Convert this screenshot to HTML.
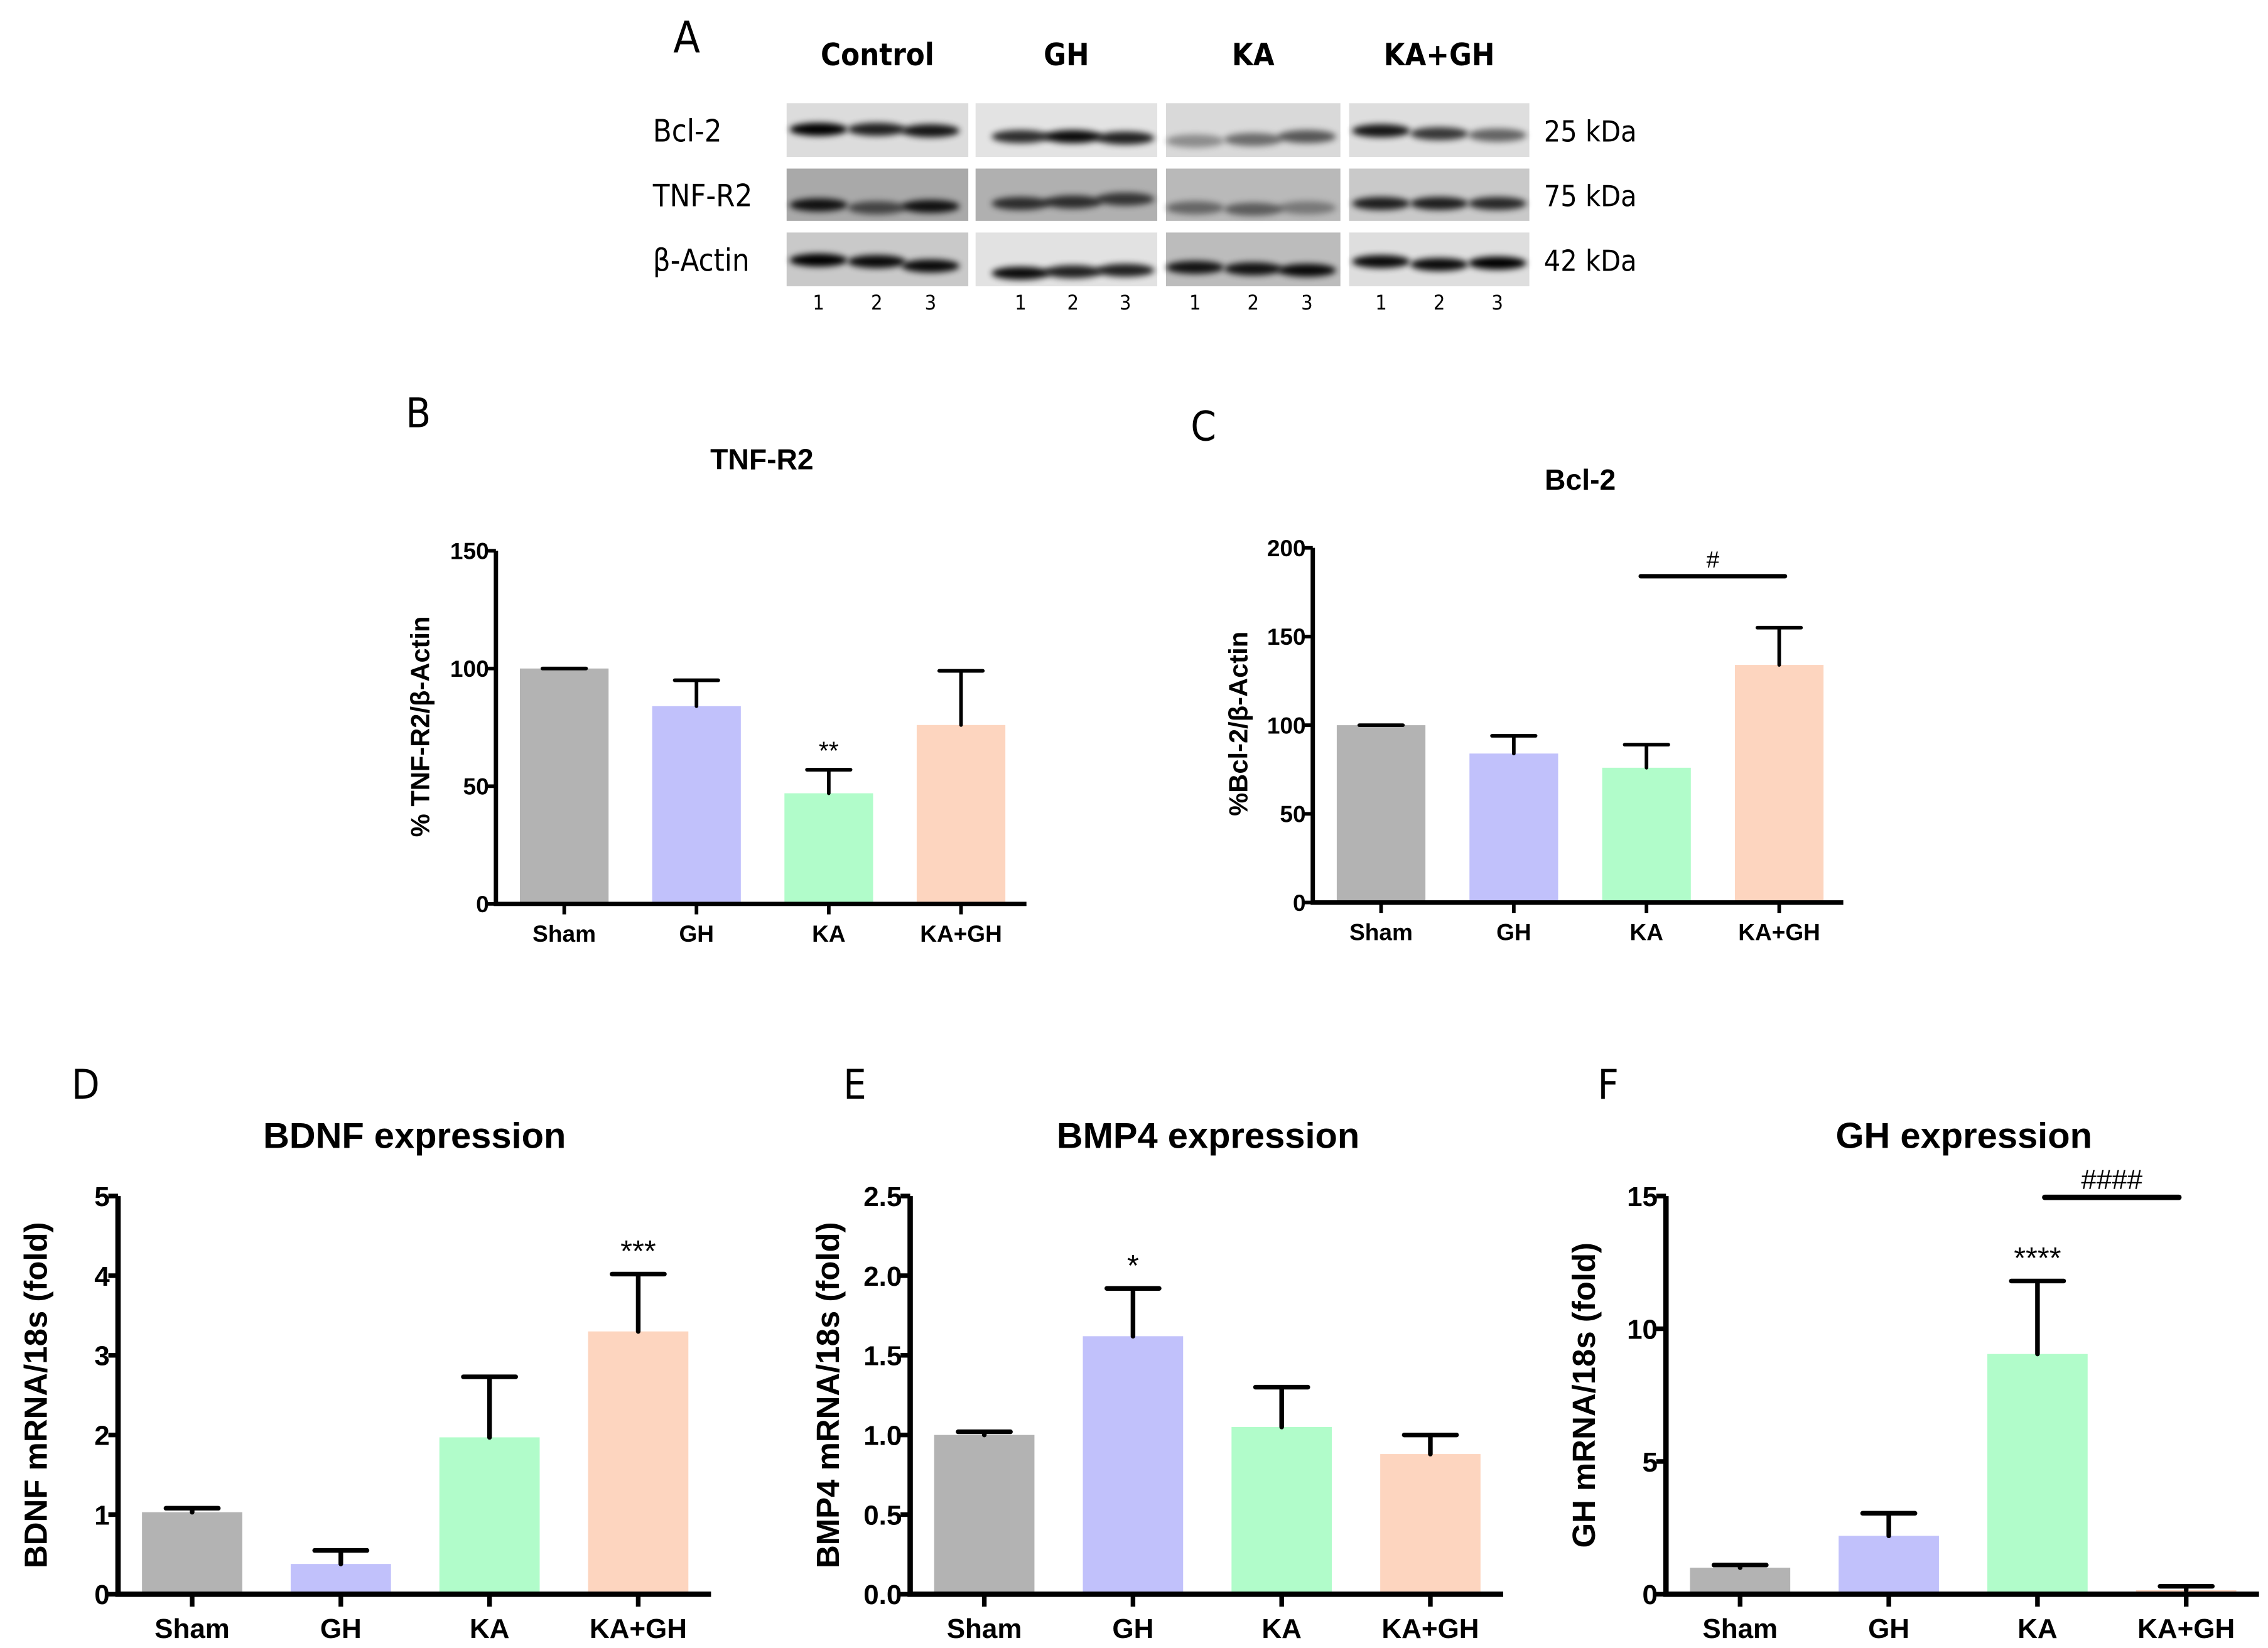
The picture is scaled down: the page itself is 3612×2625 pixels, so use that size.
<!DOCTYPE html>
<html><head><meta charset="utf-8"><style>
html,body{margin:0;padding:0;background:#fff;}
svg{display:block;}
text{font-family:"Liberation Sans Narrow","Liberation Sans",sans-serif;}
.b{font-weight:bold;}
.reg{font-family:"DejaVu Sans Condensed","Liberation Sans",sans-serif;}
</style></head><body>
<svg id="fig" xmlns="http://www.w3.org/2000/svg" width="3612" height="2625" viewBox="0 0 1560 1134">
<defs><filter id="blur" x="-20%" y="-100%" width="140%" height="300%"><feGaussianBlur stdDeviation="2.2"/></filter></defs>
<g id="blots"></g>
<g id="charts"></g>
</svg>
<script>
// ---- chart data ----
const categories = ["Sham","GH","KA","KA+GH"];
const colors = ["#b3b3b3","#c1c1fb","#b1fcca","#fdd5bf"];
const tnfValues = [100,84,47,76];
const tnfErr = [100,95,57,99];
const tnfTicks = [0,50,100,150];
const bclValues = [100,84,76,134];
const bclErr = [100,94,89,155];
const bclTicks = [0,50,100,150,200];
const bdnfValues = [1.03,0.38,1.97,3.3];
const bdnfErr = [1.08,0.55,2.73,4.02];
const bdnfTicks = [0,1,2,3,4,5];
const bmpValues = [1.0,1.62,1.05,0.88];
const bmpErr = [1.02,1.92,1.30,1.0];
const bmpTicks = ["0.0","0.5","1.0","1.5","2.0","2.5"];
const ghValues = [1.0,2.2,9.05,0.15];
const ghErr = [1.1,3.05,11.8,0.3];
const ghTicks = [0,5,10,15];

const NS="http://www.w3.org/2000/svg";
function mk(parent,tag,attrs,txt){const e=document.createElementNS(NS,tag);for(const k in attrs)e.setAttribute(k,attrs[k]);if(txt!==undefined)e.textContent=txt;parent.appendChild(e);return e;}

const charts=document.getElementById('charts');
function chart(o){
  const g=mk(charts,'g',{});
  
  
  const tmax=+o.ticks[o.ticks.length-1];
  const yS=v=>o.y0-(v/tmax)*(o.y0-o.yTop);
  const xC=i=>o.x0+o.first+i*o.step;
  o.values.forEach((v,i)=>{
    const r=mk(g,'rect',{x:xC(i)-o.bw/2,y:yS(v),width:o.bw,height:o.y0-yS(v),fill:colors[i]});
    
    
    const e=mk(g,'path',{d:`M${xC(i)},${yS(v)}V${yS(o.err[i])}M${xC(i)-o.cap/2},${yS(o.err[i])}H${xC(i)+o.cap/2}`,stroke:'#000','stroke-width':o.lw,fill:'none','stroke-linecap':'round'});
    
    
    const xl=mk(g,'text',{x:xC(i),y:o.y0+o.xlOff,'font-size':o.fs,'text-anchor':'middle',class:'b'},categories[i]);
    
    
    mk(g,'line',{x1:xC(i),x2:xC(i),y1:o.y0,y2:o.y0+o.fs*0.45,stroke:'#000','stroke-width':o.lw});
  });
  const ax=mk(g,'path',{d:`M${o.x0},${o.yTop}V${o.y0}H${o.xEnd}`,stroke:'#000','stroke-width':o.lw+0.5,fill:'none'});
  
  
  o.ticks.forEach(t=>{
    const y=yS(+t);
    mk(g,'line',{x1:o.x0-o.fs*0.35,x2:o.x0,y1:y,y2:y,stroke:'#000','stroke-width':o.lw});
    const tl=mk(g,'text',{x:o.x0-o.fs*0.3,y:y+o.fs*0.36,'font-size':o.fs,'text-anchor':'end',class:'b'},t);
    
    
  });
  const yl=mk(g,'text',{x:0,y:0,'font-size':o.ylfs,'text-anchor':'middle',class:'b',transform:`translate(${o.ylx},${o.ylc}) rotate(-90)`},o.ylabel);
  
  
  const ti=mk(g,'text',{x:o.tx,y:o.ty,'font-size':o.tfs,'text-anchor':'middle',class:'b'},o.title);
  
  
  const pl=mk(g,'text',{x:o.lx,y:o.ly,'font-size':28,class:'reg'},o.letter);
  
  
  (o.marks||[]).forEach(m=>{
    const s=mk(g,'text',{x:xC(m.i),y:yS(o.err[m.i])-o.fs*0.45,'font-size':o.fs*1.1,'text-anchor':'middle'},m.t);
    
    
  });
  if(o.bracket){const b=o.bracket;const y=yS(b.v);
    mk(g,'line',{x1:xC(b.a)-b.pad,x2:xC(b.b)+b.pad,y1:y,y2:y,stroke:'#000','stroke-width':o.lw+0.5,'stroke-linecap':'round'});
    const s=mk(g,'text',{x:(xC(b.a)+xC(b.b))/2,y:y-6,'font-size':o.fs,'text-anchor':'middle'},b.t);
    
    
  }
}
chart({name:'tnf-r2-chart',values:tnfValues,err:tnfErr,ticks:tnfTicks,x0:341,y0:622,yTop:379,xEnd:706,first:47,step:91,bw:61,cap:30,lw:2.5,fs:16,xlOff:26,ylx:295,ylc:500,ylfs:18,ylabel:'% TNF-R2/β-Actin',title:'TNF-R2',tx:524,ty:323,tfs:20,letter:'B',lx:279,ly:294,marks:[{i:2,t:'**'}]});
chart({name:'bcl-2-chart',values:bclValues,err:bclErr,ticks:bclTicks,x0:903,y0:621,yTop:377,xEnd:1268,first:47,step:91.3,bw:61,cap:30,lw:2.5,fs:16,xlOff:26,ylx:858,ylc:498,ylfs:18,ylabel:'%Bcl-2/β-Actin',title:'Bcl-2',tx:1087,ty:337,tfs:20,letter:'C',lx:819,ly:303,bracket:{a:2,b:3,v:184,pad:4,t:'#'}});
chart({name:'bdnf-chart',values:bdnfValues,err:bdnfErr,ticks:bdnfTicks,x0:81,y0:1097,yTop:823,xEnd:489,first:51,step:102.3,bw:69,cap:36,lw:3.2,fs:19,xlOff:30,ylx:32,ylc:960,ylfs:22,ylabel:'BDNF mRNA/18s (fold)',title:'BDNF expression',tx:285,ty:790,tfs:25,letter:'D',lx:49,ly:756,marks:[{i:3,t:'***'}]});
chart({name:'bmp4-chart',values:bmpValues,err:bmpErr,ticks:bmpTicks,x0:626,y0:1097,yTop:823,xEnd:1034,first:51,step:102.3,bw:69,cap:36,lw:3.2,fs:19,xlOff:30,ylx:577,ylc:960,ylfs:22,ylabel:'BMP4 mRNA/18s (fold)',title:'BMP4 expression',tx:831,ty:790,tfs:25,letter:'E',lx:580,ly:756,marks:[{i:1,t:'*'}]});
chart({name:'gh-chart',values:ghValues,err:ghErr,ticks:ghTicks,x0:1146,y0:1097,yTop:823,xEnd:1554,first:51,step:102.3,bw:69,cap:36,lw:3.2,fs:19,xlOff:30,ylx:1097,ylc:960,ylfs:22,ylabel:'GH mRNA/18s (fold)',title:'GH expression',tx:1351,ty:790,tfs:25,letter:'F',lx:1099,ly:756,marks:[{i:2,t:'****'}],bracket:{a:2,b:3,v:14.95,pad:-5,t:'####'}});

// ---- western blot ----
const bl=document.getElementById('blots');
const groups=["Control","GH","KA","KA+GH"];
const groupX=[[541,666],[671,796],[802,922],[928,1052]];
const rowNames=["Bcl-2","TNF-R2","β-Actin"];
const rowY=[[71,108],[116,152],[160,197]];
const kda=["25 kDa","75 kDa","42 kDa"];
const bandY=[[92,92,93, 97,97,98, 100,99,97, 93,95,96],[143,145,144, 142,141,139, 145,146,145, 142,142,142],[179,180,183, 188,187,186, 184,185,186, 180,182,181]];
const bandI=[[1,.85,.9, .8,.95,.85, .35,.5,.6, .9,.75,.55],[.9,.6,.9, .75,.75,.7, .45,.5,.35, .85,.85,.8],[1,.95,.95, .95,.85,.85, .9,.9,.95, .95,.95,1]];
const bgc=[["#dcdcdc","#e3e3e3","#d9d9d9","#dedede"],["#a9a9a9","#b0b0b0","#b9b9b9","#c9c9c9"],["#c9c9c9","#e2e2e2","#bcbcbc","#dedede"]];
const lanes=[[563,603,640],[702,738,774],[822,862,899],[950,990,1030]];
mk(bl,'text',{x:463,y:36,'font-size':30,class:'reg'},'A');
groups.forEach((gname,gi)=>{
  const c=(groupX[gi][0]+groupX[gi][1])/2;
  const t=mk(bl,'text',{x:c,y:45,'font-size':21,'text-anchor':'middle',class:'reg b'},gname);
  
  
  lanes[gi].forEach((lx,li)=>{mk(bl,'text',{x:lx,y:213,'font-size':14,'text-anchor':'middle',class:'reg'},String(li+1));});
});
rowNames.forEach((rn,ri)=>{
  const t=mk(bl,'text',{x:449,y:(rowY[ri][0]+rowY[ri][1])/2+8,'font-size':21,class:'reg'},rn);
  
  
  mk(bl,'text',{x:1062,y:(rowY[ri][0]+rowY[ri][1])/2+8,'font-size':20,class:'reg'},kda[ri]);
  groups.forEach((g,gi)=>{
    const r=mk(bl,'rect',{x:groupX[gi][0],y:rowY[ri][0],width:groupX[gi][1]-groupX[gi][0],height:rowY[ri][1]-rowY[ri][0],fill:bgc[ri][gi]});
    
    
    lanes[gi].forEach((lx,li)=>{
      const k=gi*3+li;
      mk(bl,'ellipse',{cx:lx,cy:bandY[ri][k]-(ri==0?3:ri==1?2:0),rx:20,ry:4.5,fill:'#000',opacity:bandI[ri][k],filter:'url(#blur)'});
    });
  });
});
</script>
</body></html>
